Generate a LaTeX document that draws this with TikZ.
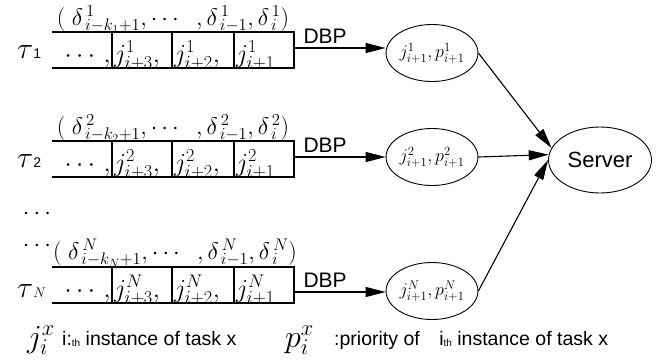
\RequirePackage{fix-cm}
\documentclass[tikz,border=0pt]{standalone}
\usepackage{fontspec}
\setmainfont{Liberation Sans}
\usetikzlibrary{calc, arrows.meta, positioning, shapes.geometric}

\tikzset{
  boxline/.style={line width=1.1pt},
  arr/.style={line width=1.1pt, -{Triangle[length=20pt, width=10pt]}},
  ell/.style={draw, ellipse, line width=0.9pt, minimum width=91pt, minimum height=57pt,
    inner sep=0pt, font=\fontsize{18}{18}\selectfont},
  seq/.style={anchor=base, inner sep=0pt, font=\fontsize{24}{24}\selectfont},
  cellt/.style={anchor=base west, inner sep=0pt, font=\fontsize{26}{26}\selectfont},
  task/.style={anchor=base west, inner sep=0pt},
  dbp/.style={above=4pt, pos=0.34, inner sep=0pt, font=\fontsize{21}{21}\selectfont},
  legend/.style={anchor=base west, inner sep=0pt, font=\fontsize{19.5}{20}\selectfont},
}

\begin{document}
\begin{tikzpicture}[x=1pt, y=-1pt]
           \useasboundingbox (0,0) rectangle (669,360);

           % task 1
           \coordinate (q1) at (52,32);
           \draw[boxline] (q1) -- ++(242,0) -- ++(0,36) -- ++(-242,0);
           \draw[boxline] ($(q1)+(60,0)$) -- ++(0,36);
           \draw[boxline] ($(q1)+(120,0)$) -- ++(0,36);
           \draw[boxline] ($(q1)+(182,0)$) -- ++(0,36);

            \node[seq] (s1) at ($(q1)+(121,-7)$){$(\;\delta^{\,1}_{\,i-k_1+1},\cdots\;\;,\delta^{\,1}_{\,i-1},\delta^{\,1}_{\,i})$};
            \node[cellt, anchor=base east] (q1a) at ($(q1)+(59,30)$){$\cdots\,,$};
            \node[cellt] (q1b) at ($(q1)+(62,30)$){$j^{1}_{i+3},$};
            \node[cellt] (q1c) at ($(q1)+(122,30)$){$j^{1}_{i+2},$};
            \node[cellt] (q1d) at ($(q1)+(184,30)$){$j^{1}_{i+1}$};
            \node[task] (t1) at (17,58){\fontsize{30}{30}\selectfont$\tau$\fontsize{14}{14}\selectfont$\mathrm{1}$};

            \coordinate (o1) at (294,48);
            \node[ell] (e1) at (432,53){$j^{1}_{i+1},p^{1}_{i+1}$};
            \draw[arr] (o1) -- (o1 -| e1.west) node[dbp] (l1){DBP};

           % task 2
           \coordinate (q2) at (52,141);
           \draw[boxline] (q2) -- ++(242,0) -- ++(0,36) -- ++(-242,0);
           \draw[boxline] ($(q2)+(60,0)$) -- ++(0,36);
           \draw[boxline] ($(q2)+(120,0)$) -- ++(0,36);
           \draw[boxline] ($(q2)+(182,0)$) -- ++(0,36);

            \node[seq] (s2) at ($(q2)+(121,-7)$){$(\;\delta^{\,2}_{\,i-k_2+1},\cdots\;\;,\delta^{\,2}_{\,i-1},\delta^{\,2}_{\,i})$};
            \node[cellt, anchor=base east] (q2a) at ($(q2)+(59,30)$){$\cdots\,,$};
            \node[cellt] (q2b) at ($(q2)+(62,30)$){$j^{2}_{i+3},$};
            \node[cellt] (q2c) at ($(q2)+(122,30)$){$j^{2}_{i+2},$};
            \node[cellt] (q2d) at ($(q2)+(184,30)$){$j^{2}_{i+1}$};
            \node[task] (t2) at (17,167){\fontsize{30}{30}\selectfont$\tau$\fontsize{14}{14}\selectfont$\mathrm{2}$};

            \coordinate (o2) at (294,157);
            \node[ell] (e2) at (432,157){$j^{2}_{i+1},p^{2}_{i+1}$};
            \draw[arr] (o2) -- (o2 -| e2.west) node[dbp] (l2){DBP};

            \node[font=\fontsize{24}{24}\selectfont] (v1) at (37,214){$\cdots$};
            \node[font=\fontsize{24}{24}\selectfont] (v2) at (37,246){$\cdots$};

           % task N
           \coordinate (qN) at (52,267);
           \draw[boxline] (qN) -- ++(242,0) -- ++(0,36) -- ++(-242,0);
           \draw[boxline] ($(qN)+(60,0)$) -- ++(0,36);
           \draw[boxline] ($(qN)+(120,0)$) -- ++(0,36);
           \draw[boxline] ($(qN)+(182,0)$) -- ++(0,36);

            \node[seq] (sN) at ($(qN)+(123,-8)$){$(\;\delta^{\,N}_{\,i-k_N+1},\cdots\;\;,\delta^{\,N}_{\,i-1},\delta^{\,N}_{\,i})$};
            \node[cellt, anchor=base east] (qNa) at ($(qN)+(59,30)$){$\cdots\,,$};
            \node[cellt] (qNb) at ($(qN)+(62,30)$){$j^{N}_{i+3},$};
            \node[cellt] (qNc) at ($(qN)+(122,30)$){$j^{N}_{i+2},$};
            \node[cellt] (qNd) at ($(qN)+(184,30)$){$j^{N}_{i+1}$};
            \node[task] (tN) at (17,297){\fontsize{30}{30}\selectfont$\tau$\fontsize{14}{14}\selectfont$N$};

            \coordinate (oN) at (294,292);
            \node[ell] (eN) at (432,291){$j^{N}_{i+1},p^{N}_{i+1}$};
            \draw[arr] (oN) -- (oN -| eN.west) node[dbp] (lN){DBP};

           % server
            \node[ell, minimum width=103pt, minimum height=66pt, font=\fontsize{22}{22}\selectfont] (srv) at (600,160){Server};
            \draw[arr] (e1.east) -- (srv.166);
            \draw[arr] (e2.east) -- (srv.174);
            \draw[arr] (eN.east) -- (srv.180);

           % legend
            \node[task, font=\fontsize{32}{32}\selectfont] (jx) at (27,347){$j_i^x$};
            \node[legend] (jt) at (62,345){i:\raisebox{-1pt}{\fontsize{10}{10}\selectfont th} instance of task x};
            \node[task, font=\fontsize{32}{32}\selectfont] (px) at (285,347){$p_i^x$};
            \node[legend] (pt) at (334,345){:priority of\quad i\raisebox{-1pt}{\fontsize{10}{10}\selectfont th} instance of task x};
       \end{tikzpicture}
\end{document}
